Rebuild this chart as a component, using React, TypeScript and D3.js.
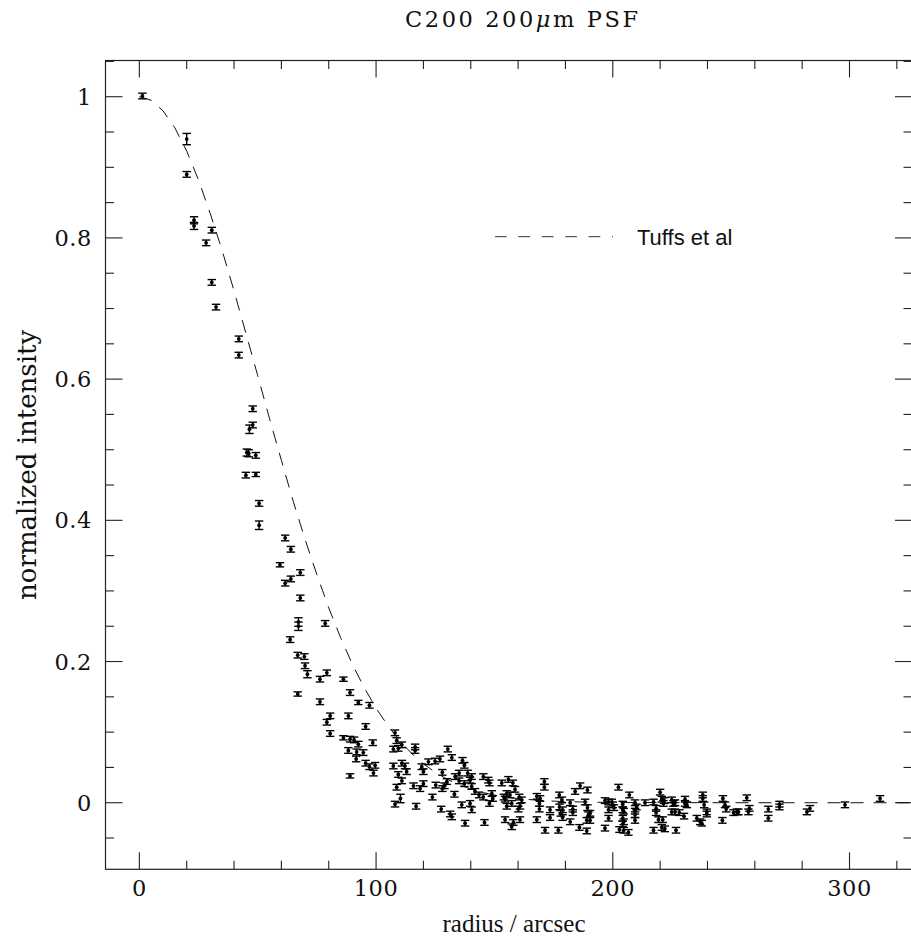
import React from 'react';
import * as d3 from 'd3';

// ---- data ----
const radius = [
  1.3, 20.0, 20.0, 23.1, 23.1, 30.6, 28.2, 30.6, 32.4, 42.0,
  42.0, 47.9, 47.9, 46.5, 45.4, 46.2, 49.2, 45.0, 49.2, 50.6,
  50.6, 61.6, 64.0, 59.4, 68.0, 64.0, 61.6, 68.0, 67.2, 67.2,
  78.5, 63.7, 66.9, 69.7, 70.0, 71.0, 79.2, 76.3, 86.2, 66.9,
  89.0, 76.3, 92.5, 97.2, 80.6, 88.3, 79.2, 95.6, 80.6, 108.0,
  86.2, 89.0, 90.7, 92.5, 98.6, 88.3, 91.8, 94.6, 91.6, 107.3,
  108.7, 110.9, 109.4, 116.5, 116.5, 95.6, 97.2, 99.6, 98.9, 89.0,
  107.3, 110.9, 112.2, 112.9, 119.3, 120.0, 109.4, 110.9, 108.7, 115.8,
  118.6, 120.0, 110.3, 108.0, 116.9, 123.8, 122.1, 124.9, 127.0, 130.3,
  132.0, 136.5, 137.3, 128.0, 129.9, 128.9, 125.2, 128.0, 133.4, 135.1,
  135.1, 138.7, 140.4, 139.7, 137.3, 140.4, 141.8, 143.5, 145.3, 133.1,
  136.2, 139.7, 140.4, 127.5, 131.3, 132.0, 137.6, 145.8, 145.3, 147.4,
  147.9, 148.9, 149.3, 147.9, 153.1, 155.9, 157.8, 158.7, 155.2, 156.6,
  154.0, 154.5, 155.2, 157.3, 160.5, 161.5, 160.8, 160.1, 154.5, 158.0,
  157.3, 160.8, 167.9, 171.1, 171.1, 167.9, 169.3, 169.0, 169.0, 173.5,
  173.5, 171.4, 177.0, 177.4, 178.5, 177.5, 178.8, 178.0, 178.8, 182.0,
  182.0, 183.1, 183.1, 184.1, 186.2, 189.3, 188.3, 189.3, 190.4, 189.7,
  189.0, 190.4, 185.9, 189.0, 196.7, 198.2, 199.6, 200.0, 200.5, 198.2,
  198.2, 196.7, 202.4, 202.8, 204.2, 204.2, 204.2, 204.2, 207.0, 206.6,
  204.6, 204.6, 204.6, 209.4, 210.0, 209.4, 209.4, 209.4, 213.6, 217.2,
  218.3, 218.3, 220.0, 220.7, 221.7, 221.4, 224.9, 225.6, 226.3, 224.9,
  226.3, 219.3, 221.1, 217.2, 220.7, 222.0, 226.7, 228.1, 230.1, 230.5,
  230.5, 231.3, 235.5, 236.9, 237.6, 238.0, 238.0, 238.6, 239.7, 239.7,
  246.5, 247.4, 247.9, 246.3, 251.0, 252.4, 253.1, 256.6, 257.7, 257.3,
  265.7, 265.7, 270.4, 270.4, 282.0, 283.3, 298.1, 312.9,
];

const intensity = [
  1.001, 0.940, 0.890, 0.825, 0.817, 0.811, 0.793, 0.737, 0.702, 0.657,
  0.634, 0.558, 0.535, 0.529, 0.496, 0.495, 0.492, 0.464, 0.465, 0.424,
  0.393, 0.375, 0.359, 0.337, 0.326, 0.317, 0.311, 0.290, 0.256, 0.250,
  0.254, 0.231, 0.209, 0.207, 0.194, 0.182, 0.184, 0.175, 0.175, 0.154,
  0.156, 0.143, 0.142, 0.138, 0.123, 0.123, 0.114, 0.108, 0.098, 0.099,
  0.092, 0.090, 0.089, 0.083, 0.085, 0.074, 0.072, 0.071, 0.062, 0.076,
  0.088, 0.082, 0.077, 0.079, 0.074, 0.056, 0.051, 0.053, 0.042, 0.038,
  0.052, 0.056, 0.052, 0.044, 0.051, 0.044, 0.040, 0.031, 0.022, 0.024,
  0.020, 0.027, 0.006, -0.002, -0.005, 0.008, 0.058, 0.059, 0.062, 0.076,
  0.064, 0.060, 0.053, 0.043, 0.030, 0.024, 0.025, 0.020, 0.037, 0.042,
  0.031, 0.042, 0.037, 0.032, 0.027, 0.023, 0.016, 0.011, 0.008, 0.012,
  -0.003, -0.001, -0.010, -0.009, -0.016, -0.020, -0.029, -0.028, 0.037, 0.032,
  0.028, 0.013, 0.006, -0.001, 0.028, 0.033, 0.028, 0.019, 0.013, 0.011,
  0.008, 0.005, -0.005, -0.001, 0.008, 0.004, -0.005, -0.009, -0.024, -0.028,
  -0.034, -0.024, -0.024, 0.030, 0.022, 0.009, 0.006, -0.001, -0.009, -0.010,
  -0.021, -0.039, -0.039, 0.011, 0.004, -0.006, -0.010, -0.015, -0.021, 0.000,
  -0.027, -0.009, -0.014, 0.016, 0.024, 0.018, 0.001, -0.007, -0.015, -0.017,
  -0.025, -0.025, -0.035, -0.040, 0.003, 0.001, 0.001, -0.003, -0.007, -0.010,
  -0.022, -0.036, 0.022, -0.038, -0.002, -0.010, -0.022, -0.030, 0.011, -0.042,
  -0.012, -0.027, -0.039, 0.000, -0.006, -0.012, -0.017, -0.025, 0.000, 0.001,
  -0.008, -0.014, 0.015, 0.005, 0.003, -0.001, 0.004, -0.001, 0.000, -0.013,
  -0.013, -0.024, -0.024, -0.039, -0.035, -0.037, -0.039, -0.014, -0.019, 0.005,
  -0.001, -0.003, -0.022, -0.027, -0.029, 0.011, 0.006, -0.003, -0.013, -0.016,
  0.006, -0.003, -0.009, -0.025, -0.014, -0.013, -0.013, 0.007, -0.008, -0.013,
  -0.009, -0.022, -0.002, -0.006, -0.013, -0.008, -0.003, 0.006,
];

const errorBar = [
  0.004, 0.008, 0.004, 0.005, 0.005, 0.004, 0.004, 0.004, 0.004, 0.004,
  0.004, 0.004, 0.004, 0.006, 0.005, 0.005, 0.004, 0.004, 0.003, 0.004,
  0.006, 0.004, 0.004, 0.003, 0.004, 0.004, 0.004, 0.004, 0.006, 0.006,
  0.004, 0.004, 0.004, 0.004, 0.004, 0.005, 0.004, 0.004, 0.003, 0.003,
  0.004, 0.004, 0.003, 0.004, 0.004, 0.004, 0.004, 0.004, 0.004, 0.004,
  0.003, 0.004, 0.004, 0.004, 0.004, 0.004, 0.004, 0.004, 0.004, 0.004,
  0.004, 0.004, 0.004, 0.004, 0.004, 0.004, 0.004, 0.004, 0.004, 0.003,
  0.004, 0.004, 0.004, 0.004, 0.004, 0.004, 0.004, 0.004, 0.004, 0.004,
  0.004, 0.004, 0.006, 0.004, 0.004, 0.004, 0.004, 0.004, 0.004, 0.004,
  0.004, 0.004, 0.004, 0.004, 0.004, 0.004, 0.004, 0.004, 0.004, 0.004,
  0.004, 0.004, 0.004, 0.004, 0.004, 0.004, 0.004, 0.004, 0.004, 0.004,
  0.004, 0.004, 0.004, 0.004, 0.004, 0.004, 0.004, 0.004, 0.004, 0.004,
  0.004, 0.004, 0.004, 0.004, 0.004, 0.004, 0.004, 0.004, 0.004, 0.004,
  0.004, 0.004, 0.004, 0.004, 0.004, 0.004, 0.004, 0.004, 0.004, 0.004,
  0.004, 0.004, 0.004, 0.004, 0.004, 0.004, 0.004, 0.004, 0.004, 0.004,
  0.004, 0.004, 0.004, 0.004, 0.004, 0.004, 0.004, 0.004, 0.004, 0.004,
  0.004, 0.004, 0.004, 0.004, 0.004, 0.004, 0.004, 0.004, 0.004, 0.004,
  0.004, 0.004, 0.004, 0.004, 0.004, 0.004, 0.004, 0.004, 0.004, 0.004,
  0.004, 0.004, 0.004, 0.004, 0.004, 0.004, 0.004, 0.004, 0.004, 0.004,
  0.004, 0.004, 0.004, 0.004, 0.004, 0.004, 0.004, 0.004, 0.004, 0.004,
  0.004, 0.004, 0.004, 0.004, 0.004, 0.004, 0.004, 0.004, 0.004, 0.004,
  0.004, 0.004, 0.004, 0.004, 0.004, 0.004, 0.004, 0.004, 0.004, 0.004,
  0.004, 0.004, 0.004, 0.004, 0.004, 0.004, 0.004, 0.004, 0.004, 0.004,
  0.004, 0.004, 0.004, 0.004, 0.004, 0.004, 0.004, 0.004, 0.004, 0.004,
  0.004, 0.004, 0.004, 0.004, 0.004, 0.004, 0.004, 0.004,
];

// Tuffs et al model profile
const modelRadius = [
  0, 5, 10, 15, 20, 25, 30, 35, 40, 45, 50, 55, 60, 65, 70, 75, 80, 85, 90, 95,
  100, 105, 110, 115, 120, 125, 130, 135, 140, 145, 150, 155, 160, 170, 180, 200,
  250, 300, 326,
];
const modelIntensity = [
  1.0, 0.995, 0.98, 0.956, 0.923, 0.882, 0.834, 0.782, 0.725, 0.665, 0.605,
  0.544, 0.485, 0.427, 0.373, 0.323, 0.276, 0.234, 0.196, 0.163, 0.134, 0.109,
  0.0877, 0.0699, 0.0552, 0.0432, 0.0334, 0.0256, 0.0194, 0.0146, 0.0108,
  0.008, 0.0058, 0.003, 0.0015, 0.0003, 0, 0, 0,
];

const xMajorTicks = [0, 100, 200, 300];
const xTickLabels = ['0', '100', '200', '300'];
const yMajorTicks = [0, 0.2, 0.4, 0.6, 0.8, 1];
const yTickLabels = ['0', '0.2', '0.4', '0.6', '0.8', '1'];

const W = 911;
const H = 942;
const LEFT = 105.5;
const RIGHT = 912;
const TOP = 60.5;
const BOTTOM = 869.3;

const serif = "'DejaVu Serif', serif";

export default function App() {
  const x = d3.scaleLinear().domain([-14.3, 326.4]).range([LEFT, RIGHT]);
  const y = d3.scaleLinear().domain([-0.0943, 1.0513]).range([BOTTOM, TOP]);

  const xMinor = d3.range(0, 330, 20).filter((v) => !xMajorTicks.includes(v));
  const yMinor = d3.range(-1, 22).map((i) => +(i * 0.05).toFixed(2)).filter(
    (v) => !yMajorTicks.some((m) => Math.abs(m - v) < 1e-6)
  );

  const line = d3
    .line<number>()
    .x((_, i) => x(modelRadius[i]))
    .y((d) => y(d));

  const majorLen = 17;
  const minorLen = 8.5;
  const tickStroke = '#222';

  return (
    <svg
      width={W}
      height={H}
      style={{ position: 'absolute', left: 0, top: 0, background: '#fff' }}
    >
      <rect x={0} y={0} width={W} height={H} fill="#fff" />
      {/* title */}
      <text
        x={405}
        y={27}
        fontFamily={serif}
        fontSize={22.5}
        textLength={233}
        lengthAdjust="spacing"
        fill="#111"
      >
        C200 200<tspan fontStyle="italic">μ</tspan>m PSF
      </text>

      {/* frame */}
      <rect
        x={LEFT}
        y={TOP}
        width={RIGHT - LEFT}
        height={BOTTOM - TOP}
        fill="none"
        stroke={tickStroke}
        strokeWidth={1.2}
      />

      {/* x ticks, bottom & top */}
      {xMajorTicks.map((v) => (
        <g key={'xM' + v}>
          <line x1={x(v)} x2={x(v)} y1={BOTTOM} y2={BOTTOM - majorLen} stroke={tickStroke} strokeWidth={1.1} />
          <line x1={x(v)} x2={x(v)} y1={TOP} y2={TOP + majorLen} stroke={tickStroke} strokeWidth={1.1} />
        </g>
      ))}
      {xMinor.map((v) => (
        <g key={'xm' + v}>
          <line x1={x(v)} x2={x(v)} y1={BOTTOM} y2={BOTTOM - minorLen} stroke={tickStroke} strokeWidth={1.1} />
          <line x1={x(v)} x2={x(v)} y1={TOP} y2={TOP + minorLen} stroke={tickStroke} strokeWidth={1.1} />
        </g>
      ))}
      {/* y ticks, left & right */}
      {yMajorTicks.map((v) => (
        <g key={'yM' + v}>
          <line x1={LEFT} x2={LEFT + majorLen} y1={y(v)} y2={y(v)} stroke={tickStroke} strokeWidth={1.1} />
          <line x1={RIGHT} x2={RIGHT - majorLen} y1={y(v)} y2={y(v)} stroke={tickStroke} strokeWidth={1.1} />
        </g>
      ))}
      {yMinor.map((v) => (
        <g key={'ym' + v}>
          <line x1={LEFT} x2={LEFT + minorLen} y1={y(v)} y2={y(v)} stroke={tickStroke} strokeWidth={1.1} />
          <line x1={RIGHT} x2={RIGHT - minorLen} y1={y(v)} y2={y(v)} stroke={tickStroke} strokeWidth={1.1} />
        </g>
      ))}

      {/* tick labels */}
      {xMajorTicks.map((v, i) => (
        <text
          key={'xl' + v}
          x={x(v)}
          y={896}
          textAnchor="middle"
          fontFamily={serif}
          fontSize={22.5}
          letterSpacing={0.6}
          fill="#111"
        >
          {xTickLabels[i]}
        </text>
      ))}
      {yMajorTicks.map((v, i) => (
        <text
          key={'yl' + v}
          x={92}
          y={y(v) + 8}
          textAnchor="end"
          fontFamily={serif}
          fontSize={22.5}
          letterSpacing={0.6}
          fill="#111"
        >
          {yTickLabels[i]}
        </text>
      ))}

      {/* axis titles */}
      <text
        x={514}
        y={932}
        textAnchor="middle"
        fontFamily="'Liberation Serif', serif"
        fontSize={25}
        fill="#111"
      >
        radius / arcsec
      </text>
      <text
        transform={`translate(36, ${(TOP + BOTTOM) / 2}) rotate(-90)`}
        textAnchor="middle"
        fontFamily={serif}
        fontSize={26}
        fill="#111"
      >
        normalized intensity
      </text>

      {/* model curve */}
      <path
        d={line(modelIntensity) || ''}
        fill="none"
        stroke="#111"
        strokeWidth={1}
        strokeDasharray="13 10"
      />

      {/* data with error bars */}
      {radius.map((r, i) => {
        const cx = x(r);
        const cy = y(intensity[i]);
        const y1 = y(intensity[i] + errorBar[i]);
        const y2 = y(intensity[i] - errorBar[i]);
        return (
          <g key={'p' + i} stroke="#000" strokeWidth={1.4}>
            <line x1={cx} x2={cx} y1={y1} y2={y2} />
            <line x1={cx - 4.2} x2={cx + 4.2} y1={y1} y2={y1} />
            <line x1={cx - 4.2} x2={cx + 4.2} y1={y2} y2={y2} />
            <circle cx={cx} cy={cy} r={1.9} fill="#000" stroke="none" />
          </g>
        );
      })}

      {/* legend */}
      <line x1={495} x2={613} y1={236.7} y2={236.7} stroke="#333" strokeWidth={1} strokeDasharray="11.7 11.7" />
      <text x={637} y={245} fontFamily="'Liberation Sans', Arial, sans-serif" fontSize={22} fill="#111">
        Tuffs et al
      </text>
    </svg>
  );
}
